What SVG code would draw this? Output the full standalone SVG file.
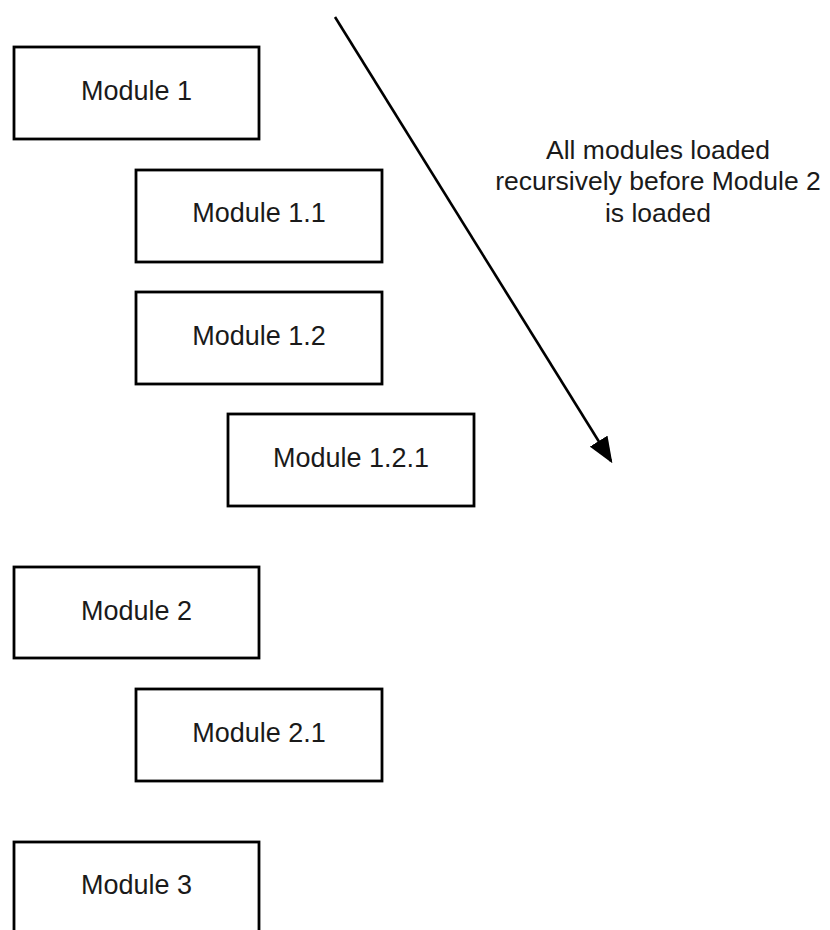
<svg xmlns="http://www.w3.org/2000/svg" width="830" height="930" viewBox="0 0 830 930">
<style>
.box{fill:#fff;stroke:#000;stroke-width:2.8}
.lbl{font-family:"Liberation Sans",Arial,sans-serif;font-size:27px;fill:#1a1a1a;text-anchor:middle}
.note{font-family:"Liberation Sans",Arial,sans-serif;font-size:26.5px;fill:#1a1a1a;text-anchor:middle}
</style>
<defs>
<marker id="ah" markerWidth="10" markerHeight="8" refX="9" refY="4" orient="auto" markerUnits="strokeWidth">
<path d="M0,0 L10,4 L0,8 Z" fill="#000"/>
</marker>
</defs>
<rect width="830" height="930" fill="#fff"/>
<g id="connectors">
<line x1="335" y1="17" x2="611" y2="461" stroke="#000" stroke-width="2.6" marker-end="url(#ah)"/>
</g>
<g id="m1"><rect class="box" x="14" y="47" width="245" height="92"/><text class="lbl" x="136.5" y="100">Module 1</text></g>
<g id="m11"><rect class="box" x="136" y="170" width="246" height="92"/><text class="lbl" x="259" y="222">Module 1.1</text></g>
<g id="m12"><rect class="box" x="136" y="292" width="246" height="92"/><text class="lbl" x="259" y="345">Module 1.2</text></g>
<g id="m121"><rect class="box" x="228" y="414" width="246" height="92"/><text class="lbl" x="351" y="467">Module 1.2.1</text></g>
<g id="m2"><rect class="box" x="14" y="567" width="245" height="91"/><text class="lbl" x="136.5" y="620">Module 2</text></g>
<g id="m21"><rect class="box" x="136" y="689" width="246" height="92"/><text class="lbl" x="259" y="742">Module 2.1</text></g>
<g id="m3"><rect class="box" x="14" y="842" width="245" height="92"/><text class="lbl" x="136.5" y="894">Module 3</text></g>
<g id="note"><text class="note" x="658" y="159">All modules loaded</text><text class="note" x="658" y="190">recursively before Module 2</text><text class="note" x="658" y="222">is loaded</text></g>
</svg>
